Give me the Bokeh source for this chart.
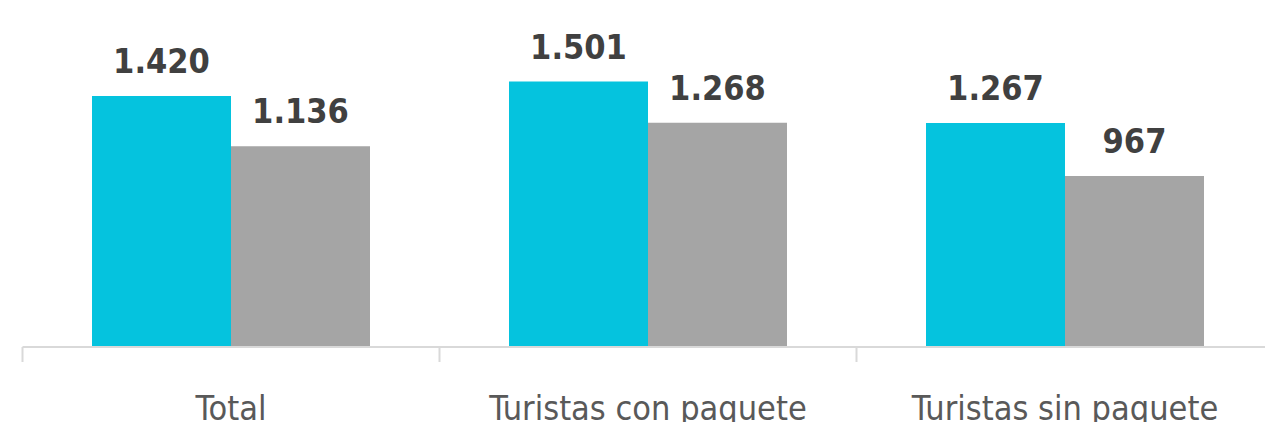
from bokeh.plotting import figure
from bokeh.models import ColumnDataSource, Range1d, LabelSet
from bokeh.core.properties import value
from bokeh.embed import file_html
from bokeh.resources import INLINE

categories = ["Total", "Turistas con paquete", "Turistas sin paquete"]
series_a = [1420, 1501, 1267]   # cyan
series_b = [1136, 1268, 967]    # grey

def fmt(v):
    return "{:,}".format(v).replace(",", ".")

W, H = 1265, 422
left_px = 22          # left edge of first category
cat_px = 417          # width of one category in pixels
base_px = 346.5       # baseline from top
ppu = 0.1768          # pixels per value unit

x_start = -left_px / cat_px
x_end = (W - left_px) / cat_px
y_end = base_px / ppu
y_start = -(H - base_px) / ppu

p = figure(width=W, height=H, output_backend="svg", toolbar_location=None,
           x_range=Range1d(x_start, x_end), y_range=Range1d(y_start, y_end),
           min_border=0, min_border_left=0, min_border_right=0,
           min_border_top=0, min_border_bottom=0)
p.axis.visible = False
p.grid.visible = False
p.outline_line_color = None
p.background_fill_color = "white"
p.border_fill_color = "white"

idx = list(range(len(categories)))
bw = 1 / 3
src = ColumnDataSource(dict(
    xa=[i + 0.5 - bw / 2 for i in idx],
    xb=[i + 0.5 + bw / 2 for i in idx],
    xc=[i + 0.5 for i in idx],
    a=series_a, b=series_b,
    la=[fmt(v) for v in series_a], lb=[fmt(v) for v in series_b],
    cat=categories, zero=[0] * len(idx),
))

p.vbar(x="xa", top="a", bottom=0, width=bw, source=src,
       fill_color="#05C3DE", line_color=None)
p.vbar(x="xb", top="b", bottom=0, width=bw, source=src,
       fill_color="#A5A5A5", line_color=None)

# category axis line and boundary ticks
bounds = list(range(len(categories) + 1))
p.segment(x0=[0], y0=[0], x1=[len(categories)], y1=[0],
          line_color="#D9D9D9", line_width=2)
tick_len = 15 / ppu
p.segment(x0=bounds, y0=[0] * len(bounds), x1=bounds, y1=[-tick_len] * len(bounds),
          line_color="#D9D9D9", line_width=2)

font = "'DejaVu Sans Condensed', 'Liberation Sans Narrow', Roboto"
for xcol, ycol, lcol in [("xa", "a", "la"), ("xb", "b", "lb")]:
    p.add_layout(LabelSet(x=xcol, y=ycol, text=lcol, source=src,
                          y_offset=23, text_align="center", text_baseline="alphabetic",
                          text_font=value(font), text_font_style="bold",
                          text_font_size="34px", text_color="#404040"))

p.add_layout(LabelSet(x="xc", y="zero", text="cat", source=src,
                      y_offset=-(419 - base_px), text_align="center",
                      text_baseline="alphabetic", text_font=value(font),
                      text_font_size="34px", text_color="#595959"))

open("out.html", "w").write(file_html(p, INLINE))
